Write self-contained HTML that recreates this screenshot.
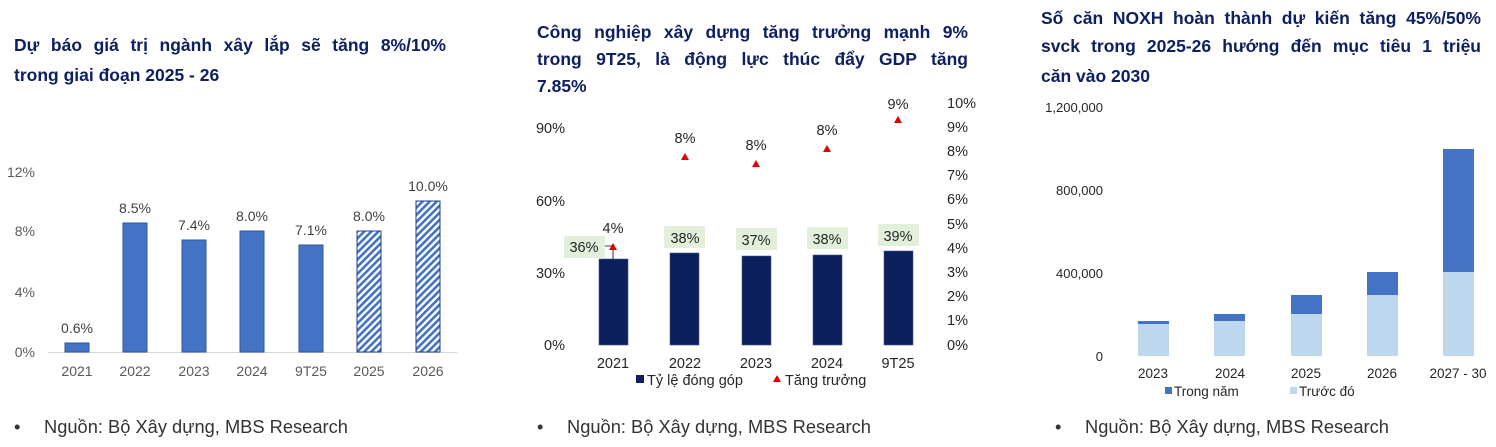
<!DOCTYPE html>
<html><head><meta charset="utf-8"><style>
body{margin:0;width:1496px;height:447px;background:#fff;overflow:hidden;font-family:"Liberation Sans",sans-serif}
svg{position:absolute;left:0;top:0}
.t{position:absolute;font-weight:bold;color:#0f2060;font-size:17.5px;line-height:20px;text-align:justify;text-align-last:justify;white-space:nowrap}
</style></head><body>
<div class="t" style="left:14px;top:35px;width:432px">Dự báo giá trị ngành xây lắp sẽ tăng 8%/10%</div>
<div class="t" style="left:14px;top:65px;width:432px;text-align-last:left">trong giai đoạn 2025 - 26</div>
<div class="t" style="left:537px;top:22px;width:431px">Công nghiệp xây dựng tăng trưởng mạnh 9%</div>
<div class="t" style="left:537px;top:49px;width:431px">trong 9T25, là động lực thúc đẩy GDP tăng</div>
<div class="t" style="left:537px;top:76px;width:431px;text-align-last:left">7.85%</div>
<div class="t" style="left:1041px;top:8px;width:440px">Số căn NOXH hoàn thành dự kiến tăng 45%/50%</div>
<div class="t" style="left:1041px;top:36px;width:440px">svck trong 2025-26 hướng đến mục tiêu 1 triệu</div>
<div class="t" style="left:1041px;top:66px;width:440px;text-align-last:left">căn vào 2030</div>
<svg width="1496" height="447" font-family="Liberation Sans,sans-serif">
<defs><pattern id="h" width="5" height="5" patternUnits="userSpaceOnUse" patternTransform="rotate(45)"><rect width="5" height="5" fill="#fff"/><rect width="2.6" height="5" fill="#4472c4"/></pattern></defs>
<!-- chart 1 -->
<g font-size="14" fill="#595959" text-anchor="end">
<text x="35" y="177">12%</text><text x="35" y="236">8%</text><text x="35" y="297">4%</text><text x="35" y="357">0%</text></g>
<line x1="48" y1="352.5" x2="457" y2="352.5" stroke="#d9d9d9"/>
<g fill="#4472c4" stroke="#2f5597" stroke-width="1">
<rect x="65" y="343" width="24" height="9"/><rect x="123" y="223" width="24" height="129"/><rect x="182" y="240" width="24" height="112"/><rect x="240" y="231" width="24" height="121"/><rect x="299" y="245" width="24" height="107"/>
<rect x="357" y="231" width="24" height="121" fill="url(#h)" stroke="#1f3f8f"/><rect x="416" y="201" width="24" height="151" fill="url(#h)" stroke="#1f3f8f"/></g>
<g font-size="14" fill="#404040" text-anchor="middle">
<text x="77" y="333">0.6%</text><text x="135" y="213">8.5%</text><text x="194" y="230">7.4%</text><text x="252" y="221">8.0%</text><text x="311" y="235">7.1%</text><text x="369" y="221">8.0%</text><text x="428" y="191">10.0%</text></g>
<g font-size="14" fill="#595959" text-anchor="middle">
<text x="77" y="376">2021</text><text x="135" y="376">2022</text><text x="194" y="376">2023</text><text x="252" y="376">2024</text><text x="311" y="376">9T25</text><text x="369" y="376">2025</text><text x="428" y="376">2026</text></g>
<!-- chart 2 -->
<g font-size="14.5" fill="#262626" text-anchor="end">
<text x="565" y="133">90%</text><text x="565" y="206">60%</text><text x="565" y="278">30%</text><text x="565" y="350">0%</text></g>
<g font-size="14.5" fill="#262626">
<text x="947" y="108">10%</text><text x="947" y="132">9%</text><text x="947" y="156">8%</text><text x="947" y="180">7%</text><text x="947" y="204">6%</text><text x="947" y="229">5%</text><text x="947" y="253">4%</text><text x="947" y="277">3%</text><text x="947" y="301">2%</text><text x="947" y="325">1%</text><text x="947" y="350">0%</text></g>
<g fill="#0b1f5c" stroke="#4a5a8a" stroke-width="0.6">
<rect x="599" y="259" width="29" height="86"/><rect x="670" y="253" width="29" height="92"/><rect x="742" y="256" width="29" height="89"/><rect x="813" y="255" width="29" height="90"/><rect x="884" y="251" width="29" height="94"/></g>
<g fill="#e2efda"><rect x="564" y="236" width="41" height="22"/><rect x="664" y="226" width="41" height="22"/><rect x="736" y="228" width="41" height="22"/><rect x="807" y="227" width="41" height="22"/><rect x="878" y="224" width="41" height="22"/></g>
<path d="M605 246H613V259" stroke="#000" fill="none" stroke-width="0.8"/>
<g font-size="14.5" fill="#262626" text-anchor="middle">
<text x="584" y="252">36%</text><text x="685" y="243">38%</text><text x="756" y="245">37%</text><text x="827" y="244">38%</text><text x="898" y="241">39%</text>
<text x="613" y="233">4%</text><text x="685" y="143">8%</text><text x="756" y="150">8%</text><text x="827" y="135">8%</text><text x="898" y="109">9%</text></g>
<g fill="#e00000"><path d="M613 243l4 7h-8z"/><path d="M685 153l4 7h-8z"/><path d="M756 160l4 7h-8z"/><path d="M827 145l4 7h-8z"/><path d="M898 116l4 7h-8z"/></g>
<g font-size="14.5" fill="#262626" text-anchor="middle">
<text x="613" y="368">2021</text><text x="685" y="368">2022</text><text x="756" y="368">2023</text><text x="827" y="368">2024</text><text x="898" y="368">9T25</text></g>
<rect x="636" y="375" width="8" height="8" fill="#0b1f5c"/><text x="647" y="385" font-size="14.5" fill="#262626">Tỷ lệ đóng  góp</text>
<path d="M777 375l4 7h-8z" fill="#e00000"/><text x="785" y="385" font-size="14.5" fill="#262626">Tăng trưởng</text>
<!-- chart 3 -->
<g font-size="13" fill="#262626" text-anchor="end">
<text x="1103" y="112">1,200,000</text><text x="1103" y="195">800,000</text><text x="1103" y="278">400,000</text><text x="1103" y="361">0</text></g>
<g fill="#bdd7ee"><rect x="1138" y="324" width="31" height="32"/><rect x="1214" y="321" width="31" height="35"/><rect x="1291" y="314" width="31" height="42"/><rect x="1367" y="295" width="31" height="61"/><rect x="1443" y="272" width="31" height="84"/></g>
<g fill="#4472c4"><rect x="1138" y="321" width="31" height="3"/><rect x="1214" y="314" width="31" height="7"/><rect x="1291" y="295" width="31" height="19"/><rect x="1367" y="272" width="31" height="23"/><rect x="1443" y="149" width="31" height="123"/></g>
<g font-size="13.5" fill="#262626" text-anchor="middle">
<text x="1153" y="378">2023</text><text x="1230" y="378">2024</text><text x="1306" y="378">2025</text><text x="1382" y="378">2026</text><text x="1458" y="378">2027 - 30</text></g>
<rect x="1165" y="387" width="7" height="7" fill="#4472c4"/><text x="1174" y="396" font-size="13.5" fill="#262626">Trong năm</text>
<rect x="1290" y="387" width="7" height="7" fill="#bdd7ee"/><text x="1299" y="396" font-size="13.5" fill="#262626">Trước đó</text>
<!-- sources -->
<g font-size="18.3" fill="#333"><text x="14" y="433">•</text><text x="44" y="433">Nguồn: Bộ Xây dựng, MBS Research</text>
<text x="537" y="433">•</text><text x="567" y="433">Nguồn: Bộ Xây dựng, MBS Research</text>
<text x="1055" y="433">•</text><text x="1085" y="433">Nguồn: Bộ Xây dựng, MBS Research</text></g>
</svg>
</body></html>
